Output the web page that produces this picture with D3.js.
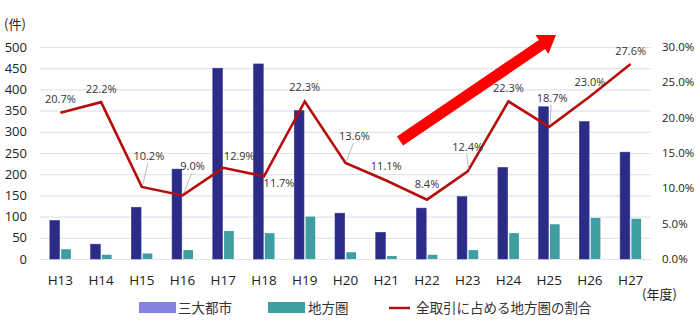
<!DOCTYPE html>
<html><head><meta charset="utf-8">
<script src="https://cdn.jsdelivr.net/npm/d3@7"></script>
<style>body{margin:0;background:#fff}svg{display:block}</style>
</head><body>
<svg id="c" width="700" height="327"></svg>
<script>
const categories = ["H13","H14","H15","H16","H17","H18","H19","H20","H21","H22","H23","H24","H25","H26","H27"];
const metroValues = [91,35,122,212,450,460,350,108,63,120,147,216,359,324,252];
const regionalValues = [23,10,13,21,66,61,100,16,7,10,21,61,82,97,95];
const shareValues = [20.7,22.2,10.2,9.0,12.9,11.7,22.3,13.6,11.1,8.4,12.4,22.3,18.7,23.0,27.6];
const leftTicks = [0,50,100,150,200,250,300,350,400,450,500];
const rightTicks = [0,5,10,15,20,25,30];
const seriesNames = ["三大都市","地方圏","全取引に占める地方圏の割合"];
// label placement offsets (layout, px) and whether a leader line is drawn
const labelOffsets = [[0,-14],[0,-13],[7,-31],[10,-29],[16,-12],[15,7],[0,-14],[9,-27],[0,-14],[0,-15],[0,-24],[0,-13],[3,-29],[0,-14],[0,-13]];
const leaders = [false,false,true,true,false,false,false,true,false,false,true,false,true,false,false];

const svg = d3.select("#c");
const L = 40, R = 651, T = 47, B = 259;
const x = d3.scaleBand().domain(categories).range([L, R]).padding(0);
const yL = d3.scaleLinear().domain([0,500]).range([B, T]);
const yR = d3.scaleLinear().domain([0,30]).range([B, T]);
const inner = d3.scaleBand().domain(["m","r"]).range([x.bandwidth()/2 - 10.5, x.bandwidth()/2 + 10.5]).paddingInner(0.14);

const numFont = "'Segoe UI','Open Sans','Noto Sans',sans-serif";
const jpFont = "'Noto Sans CJK JP','Noto Sans',sans-serif";

// gridlines
svg.append("g").selectAll("line").data(leftTicks).join("line")
  .attr("x1", L).attr("x2", R)
  .attr("y1", d => yL(d)+0.5).attr("y2", d => yL(d)+0.5)
  .attr("stroke", "#dde6ef").attr("stroke-width", 1.2);

// left axis labels
svg.append("g").selectAll("text").data(leftTicks).join("text")
  .attr("x", 27).attr("y", d => yL(d)).attr("dy", "0.35em")
  .attr("text-anchor", "end").attr("font-family", numFont).attr("font-size", 13)
  .attr("fill", "#222").text(d => d);

// right axis labels
svg.append("g").selectAll("text").data(rightTicks).join("text")
  .attr("x", 662).attr("y", d => yR(d)).attr("dy", "0.35em")
  .attr("text-anchor", "start").attr("font-family", numFont).attr("font-size", 11.5)
  .attr("fill", "#222").text(d => d.toFixed(1) + "%");

// x labels
svg.append("g").selectAll("text").data(categories).join("text")
  .attr("x", d => x(d) + x.bandwidth()/2).attr("y", 280).attr("dy", "0.35em")
  .attr("text-anchor", "middle").attr("font-family", numFont).attr("font-size", 13.5)
  .attr("fill", "#222").text(d => d);

// unit labels
svg.append("text").attr("x", 4).attr("y", 24).attr("dy","0.35em")
  .attr("font-family", jpFont).attr("font-size", 13).attr("fill", "#222").text("(件)");
svg.append("text").attr("x", 642).attr("y", 294).attr("dy","0.35em")
  .attr("font-family", jpFont).attr("font-size", 13).attr("fill", "#222").text("(年度)");

// bars
const bars = svg.append("g");
bars.selectAll("rect.m").data(metroValues).join("rect").attr("class","m")
  .attr("x", (d,i) => x(categories[i]) + inner("m"))
  .attr("width", inner.bandwidth())
  .attr("y", d => yL(d)).attr("height", d => yL(0) - yL(d))
  .attr("fill", "#2b2b88").attr("stroke", "#3a3a9a").attr("stroke-width", 0.6);
bars.selectAll("rect.r").data(regionalValues).join("rect").attr("class","r")
  .attr("x", (d,i) => x(categories[i]) + inner("r"))
  .attr("width", inner.bandwidth())
  .attr("y", d => yL(d)).attr("height", d => yL(0) - yL(d))
  .attr("fill", "#3f9ea2");

// big red arrow annotation
(function(){
  const x0 = 400, y0 = 141, x1 = 556, y1 = 35;
  const dx = x1-x0, dy = y1-y0, len = Math.hypot(dx,dy);
  const ux = dx/len, uy = dy/len, nx = -uy, ny = ux;
  const hw = 5.5, hh = 11.5, hl = 17;
  const bx = x1 - ux*hl, by = y1 - uy*hl;
  const pts = [
    [x0+nx*hw, y0+ny*hw],[bx+nx*hw, by+ny*hw],[bx+nx*hh, by+ny*hh],[x1,y1],
    [bx-nx*hh, by-ny*hh],[bx-nx*hw, by-ny*hw],[x0-nx*hw, y0-ny*hw]];
  svg.append("polygon").attr("points", pts.map(p=>p.join(",")).join(" ")).attr("fill","#ff0000");
})();

// line
const pts = shareValues.map((v,i) => [x(categories[i]) + x.bandwidth()/2, yR(v)]);
svg.append("path").attr("d", d3.line()(pts)).attr("fill","none")
  .attr("stroke","#b80d0d").attr("stroke-width",2.6).attr("stroke-linejoin","miter");

// leader lines & labels
const lab = svg.append("g");
shareValues.forEach((v,i) => {
  const [px,py] = pts[i];
  const [ox,oy] = labelOffsets[i];
  if (leaders[i]) {
    lab.append("line").attr("x1", px+ox-1).attr("y1", py+oy+7).attr("x2", px+1).attr("y2", py-2)
      .attr("stroke","#a6a6a6").attr("stroke-width",0.8);
  }
  lab.append("text").attr("x", px+ox).attr("y", py+oy).attr("dy","0.35em")
    .attr("text-anchor","middle").attr("font-family", numFont).attr("font-size", 11)
    .attr("fill","#333").text(v.toFixed(1) + "%");
});

// legend
const lg = svg.append("g");
lg.append("rect").attr("x",139).attr("y",302).attr("width",37).attr("height",11).attr("fill","#8484e0");
lg.append("text").attr("x",178).attr("y",308).attr("dy","0.35em").attr("font-family",jpFont).attr("font-size",13.5).attr("fill","#333").text(seriesNames[0]);
lg.append("rect").attr("x",268).attr("y",302).attr("width",37).attr("height",11).attr("fill","#3f9ea2");
lg.append("text").attr("x",308).attr("y",308).attr("dy","0.35em").attr("font-family",jpFont).attr("font-size",13.5).attr("fill","#333").text(seriesNames[1]);
lg.append("line").attr("x1",389).attr("x2",410).attr("y1",308).attr("y2",308).attr("stroke","#b80d0d").attr("stroke-width",2.5);
lg.append("text").attr("x",416).attr("y",308).attr("dy","0.35em").attr("font-family",jpFont).attr("font-size",13.5).attr("fill","#333").text(seriesNames[2]);
</script>
</body></html>
